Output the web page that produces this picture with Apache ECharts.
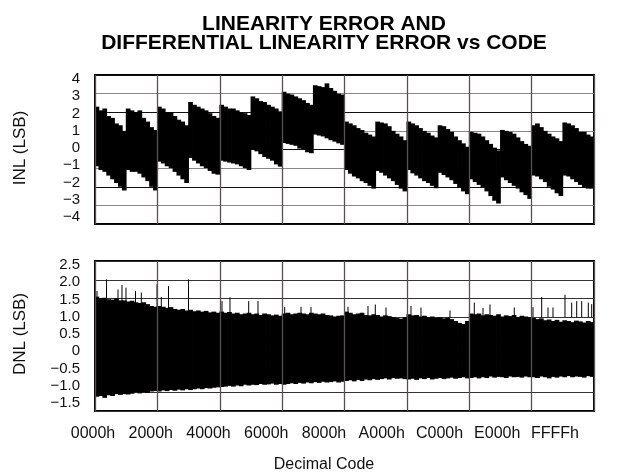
<!DOCTYPE html>
<html><head><meta charset="utf-8">
<script src="https://cdn.jsdelivr.net/npm/echarts@6/dist/echarts.min.js"></script>
<style>html,body{margin:0;padding:0;background:#fff}#c{width:624px;height:475px}</style>
</head><body><div id="c"></div>
<script>
// ---- data ----
const codeTickLabels = ['0000h','2000h','4000h','6000h','8000h','A000h','C000h','E000h','FFFFh'];
const inlTickLabels = ['\u22124','\u22123','\u22122','\u22121','0','1','2','3','4'];
const dnlTickLabels = ['\u22121.5','\u22121.0','\u22120.5','0','0.5','1.0','1.5','2.0','2.5'];
const columnCodes = 512; // each envelope column spans 512 codes (128 columns)

// INL upper / lower envelope per column (LSB)
const inlHigh = [
 2.3,2.1,2.2,1.8,1.7,1.4,1.3,1.0, 2.2,2.1,2.0,2.1,1.7,1.5,1.2,1.05,
 2.3,2.2,2.0,2.0,1.8,1.6,1.5,1.3, 2.55,2.4,2.3,2.2,2.1,1.95,1.8,1.7,
 2.4,2.3,2.2,2.2,2.1,2.0,1.95,1.85, 2.85,2.75,2.6,2.55,2.4,2.3,2.2,2.05,
 3.1,3.0,2.95,2.85,2.75,2.65,2.5,2.4, 3.45,3.4,3.35,3.55,3.3,3.15,3.0,2.95,
 1.5,1.4,1.3,1.15,1.05,0.9,0.8,0.7, 1.5,1.45,1.4,1.25,1.0,0.85,0.7,0.5,
 1.5,1.4,1.3,1.15,1.0,0.9,0.75,0.65, 1.3,1.25,1.1,0.95,0.7,0.5,0.33,0.15,
 0.95,0.9,0.85,0.7,0.5,0.3,0.1,-0.05, 1.05,1.0,0.95,0.85,0.65,0.45,0.3,0.2,
 1.3,1.4,1.2,1.0,0.85,0.7,0.6,0.45, 1.45,1.4,1.3,1.15,0.95,0.95,0.8,0.7
];
const inlLow = [
 -0.9,-1.1,-1.2,-1.4,-1.6,-1.8,-2.0,-2.2, -1.1,-1.2,-1.2,-1.3,-1.5,-1.7,-2.0,-2.2,
 -0.65,-0.75,-0.9,-1.0,-1.2,-1.4,-1.6,-1.8, -0.45,-0.6,-0.75,-0.9,-1.0,-1.15,-1.3,-1.35,
 -0.6,-0.65,-0.7,-0.75,-0.8,-0.9,-1.0,-1.1, 0.0,-0.1,-0.25,-0.4,-0.5,-0.6,-0.8,-0.92,
 0.35,0.3,0.25,0.2,0.05,0.0,-0.15,-0.2, 0.8,0.75,0.7,0.6,0.5,0.42,0.33,0.25,
 -1.1,-1.3,-1.45,-1.55,-1.7,-1.8,-1.95,-2.1, -1.15,-1.25,-1.4,-1.55,-1.7,-1.9,-2.1,-2.25,
 -1.1,-1.28,-1.4,-1.55,-1.7,-1.8,-1.95,-2.08, -1.25,-1.37,-1.5,-1.65,-1.85,-2.05,-2.25,-2.4,
 -1.6,-1.75,-1.9,-2.05,-2.25,-2.5,-2.75,-2.9, -1.5,-1.65,-1.8,-1.95,-2.1,-2.3,-2.45,-2.65,
 -1.4,-1.45,-1.6,-1.75,-2.0,-2.15,-2.35,-2.5, -1.4,-1.45,-1.6,-1.75,-1.9,-2.05,-2.1,-2.1
];

// DNL upper / lower envelope per column (LSB)
const dnlHigh = [
 1.55,1.5,1.52,1.48,1.47,1.5,1.45,1.45,1.42,1.44,1.4,1.38,1.4,1.35,1.3,1.28,
 1.3,1.28,1.25,1.27,1.22,1.2,1.22,1.18,1.2,1.16,1.18,1.15,1.17,1.13,1.15,1.12,
 1.15,1.12,1.14,1.1,1.12,1.08,1.1,1.12,1.08,1.1,1.06,1.1,1.08,1.05,1.07,1.04,
 1.1,1.12,1.08,1.1,1.12,1.1,1.08,1.12,1.1,1.08,1.1,1.06,1.05,1.02,1.04,1.05,
 1.15,1.12,1.08,1.1,1.12,1.06,1.05,1.08,1.06,1.02,1.05,1.03,1.0,0.98,0.96,1.0,
 1.08,1.05,1.06,1.02,1.04,1.0,1.02,0.98,1.0,0.97,0.99,0.95,0.9,0.85,0.82,0.9,
 1.1,1.08,1.1,1.05,1.08,1.06,1.04,1.08,1.02,1.05,1.03,1.06,1.0,1.04,1.02,1.0,
 0.98,0.95,0.97,0.92,0.94,0.9,0.93,0.88,0.92,0.9,0.87,0.91,0.89,0.86,0.9,0.87
];
const dnlLow = [
 -1.12,-1.1,-1.15,-1.08,-1.1,-1.05,-1.07,-1.05,-1.06,-1.04,-1.0,-1.03,-1.0,-1.02,-0.98,-0.97,
 -0.98,-0.95,-0.97,-0.94,-0.96,-0.93,-0.95,-0.92,-0.94,-0.92,-0.9,-0.92,-0.89,-0.9,-0.88,-0.87,
 -0.86,-0.85,-0.83,-0.85,-0.82,-0.84,-0.8,-0.82,-0.8,-0.81,-0.78,-0.8,-0.79,-0.77,-0.8,-0.78,
 -0.8,-0.78,-0.76,-0.78,-0.75,-0.77,-0.74,-0.76,-0.73,-0.75,-0.72,-0.74,-0.73,-0.71,-0.74,-0.72,
 -0.7,-0.68,-0.71,-0.67,-0.7,-0.66,-0.68,-0.65,-0.67,-0.65,-0.63,-0.66,-0.62,-0.64,-0.63,-0.65,
 -0.66,-0.64,-0.67,-0.63,-0.65,-0.62,-0.66,-0.64,-0.62,-0.65,-0.63,-0.61,-0.64,-0.62,-0.6,-0.63,
 -0.62,-0.6,-0.63,-0.6,-0.62,-0.58,-0.61,-0.59,-0.6,-0.62,-0.58,-0.6,-0.59,-0.61,-0.58,-0.6,
 -0.6,-0.62,-0.58,-0.6,-0.63,-0.59,-0.61,-0.58,-0.6,-0.57,-0.6,-0.58,-0.59,-0.61,-0.57,-0.59
];

// isolated tall DNL spikes: code and peak value
const dnlSpikeCode = [263,1510,3021,3546,4071,5319,6081,8143,8707,9653,12280,16680,17730,20186,21407,24914,27055,28368,33227,35854,36813,38218,41501,42815,46623,49815,50957,51877,55068,57524,58667,59494,60151,61727,62607,63263,63920,64787,65233];
const dnlSpikeValue = [1.7,2.01,1.74,1.86,1.79,1.7,1.66,1.88,1.54,1.83,2.01,1.43,1.53,1.43,1.43,1.27,1.28,1.27,1.28,1.3,1.34,1.26,1.3,1.26,1.18,1.39,1.25,1.34,1.26,1.27,1.54,1.26,1.26,1.6,1.39,1.43,1.43,1.39,1.35];

// ---- build series data ----
const inlColumns = inlHigh.map((h, i) => [i * columnCodes, (i + 1) * columnCodes, inlLow[i], h]);
const dnlColumns = dnlHigh.map((h, i) => [i * columnCodes, (i + 1) * columnCodes, dnlLow[i], h]);
const dnlSpikes = dnlSpikeCode.map((c, i) => [c, 1.0, dnlSpikeValue[i]]);

function renderColumn(params, api) {
  const p0 = api.coord([api.value(0), api.value(3)]);
  const p1 = api.coord([api.value(1), api.value(2)]);
  return { type: 'rect',
    shape: { x: p0[0] - 0.4, y: p0[1], width: p1[0] - p0[0] + 0.8, height: p1[1] - p0[1] },
    style: { fill: '#000' } };
}
function renderSpike(params, api) {
  const a = api.coord([api.value(0), api.value(1)]);
  const b = api.coord([api.value(0), api.value(2)]);
  return { type: 'line', shape: { x1: a[0], y1: a[1], x2: b[0], y2: b[1] },
    style: { stroke: '#000', lineWidth: 1 } };
}

const FONT = 'Liberation Sans, Arial, Helvetica, sans-serif';
const plotX = (gi) => ({
  gridIndex: gi, type: 'value', min: 0, max: 65536, interval: 8192, z: 3,
  axisLine: { show: false }, axisTick: { show: false }, axisLabel: { show: false },
  splitLine: { show: true, lineStyle: { color: '#5b5050', width: 1.3 } }
});
const hidden = (gi) => ({ gridIndex: gi, type: 'value', show: false });

const chart = echarts.init(document.getElementById('c'), null, { renderer: 'canvas' });
chart.setOption({
  animation: false,
  backgroundColor: '#fff',
  title: {
    text: 'LINEARITY ERROR AND\nDIFFERENTIAL LINEARITY ERROR vs CODE',
    left: 319, top: 10, textAlign: 'center',
    textStyle: { fontFamily: FONT, fontWeight: 'bold', fontSize: 21, lineHeight: 19, color: '#000' }
  },
  grid: [
    { left: 95, top: 75, width: 499, height: 149, show: true, borderColor: '#000', borderWidth: 2, backgroundColor: 'transparent' },
    { left: 95, top: 261, width: 499, height: 150, show: true, borderColor: '#000', borderWidth: 2, backgroundColor: 'transparent' },
    { left: 93, top: 411, width: 462, height: 1 },
    { left: 95, top: 79, width: 1, height: 138 },
    { left: 95, top: 265, width: 1, height: 138 }
  ],
  xAxis: [
    plotX(0), plotX(1),
    { gridIndex: 2, type: 'category', data: codeTickLabels, boundaryGap: false,
      axisLine: { show: false }, axisTick: { show: false }, splitLine: { show: false },
      axisLabel: { interval: 0, margin: 14, fontFamily: FONT, fontSize: 16, color: '#111' },
      name: 'Decimal Code', nameLocation: 'middle', nameGap: 45,
      nameTextStyle: { fontFamily: FONT, fontSize: 16, color: '#111' } },
    hidden(3), hidden(4)
  ],
  yAxis: [
    { gridIndex: 0, type: 'value', min: -4, max: 4, interval: 1,
      axisLine: { show: false }, axisTick: { show: false }, axisLabel: { show: false },
      splitLine: { show: true, lineStyle: { color: ['#111', '#888'], width: 1.2 } } },
    { gridIndex: 1, type: 'value', min: -1.5, max: 2.5, interval: 0.5,
      axisLine: { show: false }, axisTick: { show: false }, axisLabel: { show: false },
      splitLine: { show: true, lineStyle: { color: '#333', width: 1.2 } } },
    hidden(2),
    { gridIndex: 3, type: 'category', data: inlTickLabels, boundaryGap: false,
      axisLine: { show: false }, axisTick: { show: false }, splitLine: { show: false },
      axisLabel: { interval: 0, margin: 15, fontFamily: FONT, fontSize: 15, color: '#111' },
      name: 'INL (LSB)', nameLocation: 'middle', nameGap: 66, nameRotate: 90,
      nameTextStyle: { fontFamily: FONT, fontSize: 17, color: '#111' } },
    { gridIndex: 4, type: 'category', data: dnlTickLabels, boundaryGap: false,
      axisLine: { show: false }, axisTick: { show: false }, splitLine: { show: false },
      axisLabel: { interval: 0, margin: 15, fontFamily: FONT, fontSize: 15, color: '#111' },
      name: 'DNL (LSB)', nameLocation: 'middle', nameGap: 66, nameRotate: 90,
      nameTextStyle: { fontFamily: FONT, fontSize: 17, color: '#111' } }
  ],
  series: [
    { type: 'custom', name: 'INL', xAxisIndex: 0, yAxisIndex: 0, data: inlColumns,
      encode: { x: [0, 1], y: [2, 3] }, renderItem: renderColumn, silent: true },
    { type: 'custom', name: 'DNL', xAxisIndex: 1, yAxisIndex: 1, data: dnlColumns,
      encode: { x: [0, 1], y: [2, 3] }, renderItem: renderColumn, silent: true },
    { type: 'custom', name: 'DNL spikes', xAxisIndex: 1, yAxisIndex: 1, data: dnlSpikes,
      encode: { x: 0, y: [1, 2] }, renderItem: renderSpike, silent: true }
  ]
});
</script></body></html>
